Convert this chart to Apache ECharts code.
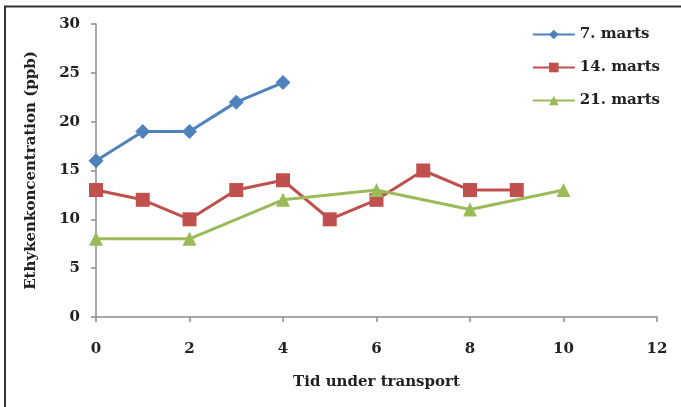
<!DOCTYPE html>
<html>
<head>
<meta charset="utf-8">
<script src="https://cdn.jsdelivr.net/npm/echarts@6/dist/echarts.min.js"></script>
<style>
  html, body { margin: 0; padding: 0; background: #fff; }
  #chart { width: 681px; height: 407px; }
</style>
</head>
<body>
<div id="chart"></div>
<script>
// Ethylene concentration during transport, three shipment dates
const seriesNames = ['7. marts', '14. marts', '21. marts'];
const march7 = [[0, 16], [1, 19], [2, 19], [3, 22], [4, 24]];
const march14 = [[0, 13], [1, 12], [2, 10], [3, 13], [4, 14], [5, 10], [6, 12], [7, 15], [8, 13], [9, 13]];
const march21 = [[0, 8], [2, 8], [4, 12], [6, 13], [8, 11], [10, 13]];
const xAxisTitle = 'Tid under transport';
const yAxisTitle = 'Ethykenkoncentration (ppb)';

const colors = ['#4F81BD', '#C0504D', '#9BBB59'];
const symbols = ['diamond', 'rect', 'triangle'];
const symbolSizes = [15, 14, 14];
const dataSets = [march7, march14, march21];
const fontFamily = '"DejaVu Serif", "Liberation Serif", serif';

const chart = echarts.init(document.getElementById('chart'), null, { renderer: 'canvas' });

const axisLine = { show: true, lineStyle: { color: '#8c8c8c', width: 1.5 } };
const axisTick = { show: true, length: 5, lineStyle: { color: '#8c8c8c', width: 1.5 } };
const axisLabel = { color: '#222', fontFamily: fontFamily, fontWeight: 'bold', fontSize: 15 };

chart.setOption({
  animation: false,
  backgroundColor: '#fff',
  textStyle: { fontFamily: fontFamily },
  grid: { left: 96, right: 24, top: 24, bottom: 90, containLabel: false },
  legend: {
    orient: 'vertical',
    right: 16,
    top: 22,
    itemGap: 18,
    itemWidth: 42,
    itemHeight: 12,
    textStyle: { color: '#222', fontFamily: fontFamily, fontWeight: 'bold', fontSize: 15 },
    data: seriesNames
  },
  xAxis: {
    type: 'value',
    min: 0, max: 12, interval: 2,
    name: xAxisTitle,
    nameLocation: 'middle',
    nameGap: 58,
    nameTextStyle: { color: '#222', fontFamily: fontFamily, fontWeight: 'bold', fontSize: 15 },
    axisLine: axisLine,
    axisTick: axisTick,
    axisLabel: Object.assign({ margin: 25 }, axisLabel),
    splitLine: { show: false }
  },
  yAxis: {
    type: 'value',
    min: 0, max: 30, interval: 5,
    name: yAxisTitle,
    nameLocation: 'middle',
    nameGap: 57,
    nameTextStyle: { color: '#222', fontFamily: fontFamily, fontWeight: 'bold', fontSize: 15 },
    axisLine: axisLine,
    axisTick: axisTick,
    axisLabel: Object.assign({ margin: 16 }, axisLabel),
    splitLine: { show: false }
  },
  graphic: [
    { type: 'line', shape: { x1: 4, y1: 6.5, x2: 681, y2: 6.5 }, style: { stroke: '#333', lineWidth: 2 }, z: 100 },
    { type: 'line', shape: { x1: 5, y1: 6, x2: 5, y2: 407 }, style: { stroke: '#333', lineWidth: 2 }, z: 100 }
  ],
  series: seriesNames.map((name, i) => ({
    name: name,
    type: 'line',
    data: dataSets[i],
    symbol: symbols[i],
    symbolSize: symbolSizes[i],
    showSymbol: true,
    lineStyle: { color: colors[i], width: 3 },
    itemStyle: { color: colors[i] }
  }))
});
</script>
</body>
</html>
